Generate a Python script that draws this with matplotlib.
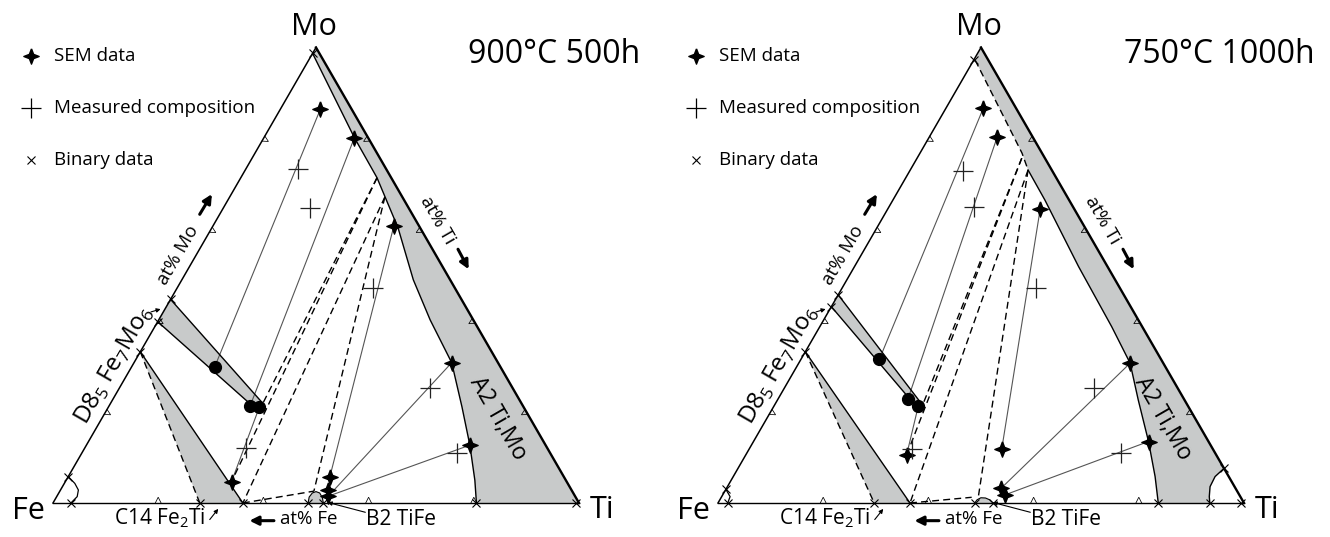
import numpy as np
import matplotlib
matplotlib.use('Agg')
import matplotlib.pyplot as plt
from matplotlib.path import Path

plt.rcParams['font.family'] = ['Open Sans', 'DejaVu Sans']
plt.rcParams['mathtext.fontset'] = 'custom'
plt.rcParams['mathtext.rm'] = 'Open Sans'

SQ = np.sqrt(3) / 2
GRAY = '#c8caca'
TIE = '#555555'

# ---- 900C 500h (left), compositions in at% (Ti, Mo) ----
L_A2_TI = [0, 17.2, 25.9, 35.4, 44.0, 51.6, 60.4, 67.2, 72.9, 77.7, 80.5]
L_A2_MO = [98.7, 80.2, 71.4, 60.4, 49.0, 40.2, 30.8, 21.1, 12.7, 5.0, 0]
L_D8_TI = [0, 28.8, 29.2, 28.9, 0]
L_D8_MO = [44.7, 22.0, 21.0, 20.2, 39.8]
L_C14_TI = [0, 27.9, 36.1]
L_C14_MO = [33.2, 0, 0]
L_FE_TI = [0, 2.0, 3.4, 3.9, 3.4]
L_FE_MO = [5.8, 4.3, 2.85, 1.4, 0]
L_B2_TI = [48.5, 48.05, 48.2, 48.75, 49.6, 50.6, 51.4]
L_B2_MO = [0, 1.3, 2.2, 2.5, 2.2, 1.2, 0]
L_SEM_TI = [7.6, 17.2, 34.4, 60.4, 72.9, 49.8, 50.9, 51.6, 31.6]
L_SEM_MO = [86.5, 80.2, 60.8, 30.8, 12.7, 5.6, 2.9, 1.5, 4.7]
L_DOT_TI = [15.8, 26.8, 28.7]
L_DOT_MO = [29.9, 21.4, 21.1]
L_MEAS_TI = [10.0, 16.5, 37.2, 59.1, 71.3, 30.6]
L_MEAS_MO = [73.3, 64.7, 47.1, 25.2, 10.9, 12.0]
L_BIN_TI = [3.4, 27.9, 36.1, 48.5, 51.4, 80.5, 99.5, 0, 0, 0, 0, 0]
L_BIN_MO = [0, 0, 0, 0, 0, 0, 0, 5.8, 33.2, 39.8, 44.7, 98.7]
L_TIE_A_TI = [7.6, 17.2, 34.4, 60.4, 72.9, 28.7]
L_TIE_A_MO = [86.5, 80.2, 60.8, 30.8, 12.7, 21.1]
L_TIE_B_TI = [15.8, 26.8, 49.8, 51.6, 51.6, 31.6]
L_TIE_B_MO = [29.9, 21.4, 5.6, 1.5, 1.5, 4.7]
L_DASH_A_TI = [25.9, 25.9, 29.5, 29.5, 36.1]
L_DASH_A_MO = [71.4, 71.4, 67.2, 67.2, 0]
L_DASH_B_TI = [29.0, 31.6, 36.1, 48.3, 48.3]
L_DASH_B_MO = [21.2, 4.7, 0, 2.6, 2.6]

# ---- 750C 1000h (right) ----
R_A2_TI = [0.3, 19.4, 22.4, 28.9, 42.6, 55.5, 63.0, 68.6, 75.1, 80.2, 83.7]
R_A2_MO = [97.2, 76.8, 73.1, 66.5, 51.9, 38.7, 30.7, 22.6, 13.5, 5.8, 0]
R_TIC_TI = [92.4, 91.6, 91.75, 92.7, 93.5]
R_TIC_MO = [7.6, 5.8, 3.6, 1.4, 0]
R_D8_TI = [0, 27.9, 28.5, 28.3, 0]
R_D8_MO = [45.7, 21.7, 20.8, 20.2, 43.1]
R_C14_TI = [0, 29.7, 36.5]
R_C14_MO = [33.2, 0, 0]
R_FE_TI = [0, 1.6, 1.85]
R_FE_MO = [3.0, 1.4, 0]
R_B2_TI = [48.8, 48.9, 49.4, 50.3, 51.3, 52.3]
R_B2_MO = [0, 0.7, 1.15, 1.1, 0.7, 0]
R_SEM_TI = [7.1, 12.9, 29.0, 63.0, 75.1, 48.0, 52.2, 53.7, 30.6]
R_SEM_MO = [86.7, 80.4, 64.5, 30.7, 13.5, 11.9, 3.2, 1.8, 10.5]
R_DOT_TI = [14.9, 24.7, 27.4]
R_DOT_MO = [31.6, 22.8, 21.4]
R_MEAS_TI = [10.2, 16.3, 37.0, 58.8, 71.2, 30.9]
R_MEAS_MO = [72.8, 64.9, 47.1, 25.2, 10.9, 11.8]
R_BIN_TI = [1.85, 29.7, 36.5, 48.8, 52.3, 83.7, 93.5, 99.5, 0, 0, 0, 0, 0, 92.4]
R_BIN_MO = [0, 0, 0, 0, 0, 0, 0, 0, 3.0, 33.2, 43.1, 45.7, 97.2, 7.6]
R_TIE_A_TI = [7.1, 12.9, 29.0, 63.0, 75.1, 27.4]
R_TIE_A_MO = [86.7, 80.4, 64.5, 30.7, 13.5, 21.4]
R_TIE_B_TI = [14.9, 24.7, 48.0, 52.2, 53.7, 30.6]
R_TIE_B_MO = [31.6, 22.8, 11.9, 3.2, 1.8, 10.5]
R_DASH_A_TI = [19.9, 19.9, 22.4, 22.4, 36.5]
R_DASH_A_MO = [75.7, 75.7, 73.1, 73.1, 0]
R_DASH_B_TI = [28.3, 30.6, 36.5, 48.8, 47.6]
R_DASH_B_MO = [20.5, 10.5, 0, 1.4, 1.25]

TICKS = [20, 40, 60, 80]


def tern(ti, mo):
    ti = np.asarray(ti, float) / 100
    mo = np.asarray(mo, float) / 100
    return ti + mo / 2, mo * SQ


star = Path([(0, 1), (0.28, 0.28), (1, 0), (0.28, -0.28), (0, -1),
             (-0.28, -0.28), (-1, 0), (-0.28, 0.28), (0, 1)])


def caret(ax, ti, mo, d, n):
    x, y = tern([ti], [mo])
    w, h = 0.0055, 0.011
    ax.plot([x[0] - w * d[0], x[0] + h * n[0], x[0] + w * d[0]],
            [y[0] - w * d[1], y[0] + h * n[1], y[0] + w * d[1]],
            color='k', lw=0.55, zorder=4, solid_joinstyle='miter')


def panel(ax, p, title):
    ax.set_xlim(-53 / 526, 612 / 526)
    ax.set_ylim(-34 / 526, 503 / 526)
    ax.axis('off')

    # A2 region
    ax_, ay_ = tern(p['a2_ti'], p['a2_mo'])
    ex, ey = tern([100, 0], [0, 100])
    if p['tic_ti'] is not None:
        tx, ty = tern(p['tic_ti'], p['tic_mo'])
        px = np.r_[ax_, tx[::-1], ex[1]]
        py = np.r_[ay_, ty[::-1], ey[1]]
    else:
        px = np.r_[ax_, ex]
        py = np.r_[ay_, ey]
    ax.fill(px, py, color=GRAY, lw=0, zorder=1)
    k = p['a2_dash']
    if k:
        ax.plot(ax_[:k + 1], ay_[:k + 1], color='k', lw=1.0, ls=(0, (5, 3)), zorder=3)
        ax.plot(ax_[k:], ay_[k:], color='k', lw=1.0, zorder=3)
    else:
        ax.plot(ax_, ay_, color='k', lw=1.0, zorder=3)
    if p['tic_ti'] is not None:
        ax.plot(tx, ty, color='k', lw=1.0, zorder=3)

    # D8_5 band
    dx, dy = tern(p['d8_ti'], p['d8_mo'])
    ax.fill(dx, dy, color=GRAY, lw=0, zorder=1)
    ax.plot(dx[1:], dy[1:], color='k', lw=1.0, zorder=3)
    ax.plot(dx[:2], dy[:2], color='k', lw=1.0, zorder=3)

    # C14
    cx, cy = tern(p['c14_ti'], p['c14_mo'])
    ax.fill(cx, cy, color=GRAY, lw=0, zorder=1)
    ax.plot(cx[:2], cy[:2], color='k', lw=1.0, ls=(0, (5, 3)), zorder=3)
    ax.plot(cx[::2], cy[::2], color='k', lw=1.0, zorder=3)

    # B2 and Fe corner
    bx, by = tern(p['b2_ti'], p['b2_mo'])
    ax.fill(bx, by, color=GRAY, lw=0, zorder=1)
    ax.plot(bx, by, color='k', lw=0.8, zorder=3)
    fx, fy = tern(p['fe_ti'], p['fe_mo'])
    ax.plot(fx, fy, color='k', lw=0.9, zorder=3)

    # triangle
    vx, vy = tern([0, 100, 0, 0], [0, 0, 100, 0])
    ax.plot(vx[:2], vy[:2], color='k', lw=1.0, zorder=4)
    ax.plot(vx[2:], vy[2:], color='k', lw=1.1, zorder=4)
    ax.plot(vx[1:3], vy[1:3], color='k', lw=1.7, zorder=4)

    for v in TICKS:
        caret(ax, v, 0, (1, 0), (0, 1))
        caret(ax, 0, v, (0.5, SQ), (SQ, -0.5))
        caret(ax, 100 - v, v, (0.5, -SQ), (-SQ, -0.5))

    # tie lines
    ax_t, ay_t = tern(p['tie_a_ti'], p['tie_a_mo'])
    bx_t, by_t = tern(p['tie_b_ti'], p['tie_b_mo'])
    for i in range(len(ax_t)):
        ax.plot([ax_t[i], bx_t[i]], [ay_t[i], by_t[i]], color=TIE, lw=0.8, zorder=2)
    ax_d, ay_d = tern(p['dash_a_ti'], p['dash_a_mo'])
    bx_d, by_d = tern(p['dash_b_ti'], p['dash_b_mo'])
    for i in range(len(ax_d)):
        ax.plot([ax_d[i], bx_d[i]], [ay_d[i], by_d[i]], color='k', lw=1.0,
                ls=(0, (5, 3)), zorder=2)

    # markers
    sx, sy = tern(p['sem_ti'], p['sem_mo'])
    ax.plot(sx, sy, ls='none', marker=star, ms=11, color='k', zorder=6)
    ox, oy = tern(p['dot_ti'], p['dot_mo'])
    ax.plot(ox, oy, ls='none', marker='o', ms=8.5, color='k', zorder=6)
    mx, my = tern(p['meas_ti'], p['meas_mo'])
    ax.plot(mx, my, ls='none', marker='+', ms=14, mew=0.9, color='#222222', zorder=6)
    nx, ny = tern(p['bin_ti'], p['bin_mo'])
    ax.plot(nx, ny, ls='none', marker='x', ms=6, mew=0.8, color='k', zorder=6)

    # legend
    ax.plot([-0.0426], [0.850], ls='none', marker=star, ms=11, color='k')
    ax.plot([-0.0426], [0.751], ls='none', marker='+', ms=14, mew=0.9, color='k')
    ax.plot([-0.0426], [0.652], ls='none', marker='x', ms=6, mew=0.8, color='k')
    for y, s in zip([0.850, 0.751, 0.652], ['SEM data', 'Measured composition', 'Binary data']):
        ax.text(0.0015, y, s, fontsize=13.5, va='center', ha='left')

    # labels
    ax.text(0.9525, 0.852, title, fontsize=23, ha='center', va='center')
    ax.text(0.496, 0.905, 'Mo', fontsize=22, ha='center', va='center')
    ax.text(-0.0475, -0.0152, 'Fe', fontsize=22, ha='center', va='center')
    ax.text(1.0437, -0.0133, 'Ti', fontsize=22, ha='center', va='center')
    ax.text(0.117, 0.262, r'D8$_5$ Fe$_7$Mo$_6$', fontsize=17.5, rotation=60,
            ha='center', va='center', rotation_mode='anchor')
    ax.text(0.8466, 0.161, 'A2 Ti,Mo', fontsize=16.5, rotation=-60,
            ha='center', va='center', rotation_mode='anchor')
    ax.text(0.2376, 0.4715, 'at% Mo', fontsize=13.5, rotation=60,
            ha='center', va='center', rotation_mode='anchor')
    ax.text(0.731, 0.538, 'at% Ti', fontsize=13.5, rotation=-60,
            ha='center', va='center', rotation_mode='anchor')
    ax.text(0.4867, -0.0304, 'at% Fe', fontsize=13.5, ha='center', va='center')
    ax.text(0.2034, -0.0285, r'C14 Fe$_2$Ti', fontsize=15, ha='center', va='center')
    ax.text(0.6616, -0.0323, 'B2 TiFe', fontsize=15, ha='center', va='center')

    big = dict(arrowstyle='-|>', lw=2.2, color='k', mutation_scale=13)
    small = dict(arrowstyle='-|>', lw=0.8, color='k', mutation_scale=6)
    ax.annotate('', xy=(0.3048, 0.5918), xytext=(0.2762, 0.5443), arrowprops=big)
    ax.annotate('', xy=(0.7928, 0.4397), xytext=(0.7675, 0.4871), arrowprops=big)
    ax.annotate('', xy=(0.3682, -0.0336), xytext=(0.4253, -0.0336), arrowprops=big)
    ax.annotate('', xy=(0.2097, 0.3701), xytext=(0.1812, 0.3618), arrowprops=small)
    ax.annotate('', xy=(0.3175, -0.007), xytext=(0.2947, -0.0356), arrowprops=small)
    ax.annotate('', xy=(0.5171, 0.0025), xytext=(0.5989, -0.019), arrowprops=small)


def pack(pre):
    g = globals()
    keys = ['A2_TI', 'A2_MO', 'D8_TI', 'D8_MO', 'C14_TI', 'C14_MO', 'FE_TI', 'FE_MO',
            'B2_TI', 'B2_MO', 'SEM_TI', 'SEM_MO', 'DOT_TI', 'DOT_MO', 'MEAS_TI', 'MEAS_MO',
            'BIN_TI', 'BIN_MO', 'TIE_A_TI', 'TIE_A_MO', 'TIE_B_TI', 'TIE_B_MO',
            'DASH_A_TI', 'DASH_A_MO', 'DASH_B_TI', 'DASH_B_MO']
    p = {k.lower(): g[pre + k] for k in keys}
    p['tic_ti'] = g.get(pre + 'TIC_TI')
    p['tic_mo'] = g.get(pre + 'TIC_MO')
    return p


fig = plt.figure(figsize=(13.3, 5.37), dpi=100)
ax1 = fig.add_axes([0, 0, 0.5, 1])
ax2 = fig.add_axes([0.5, 0, 0.5, 1])

pl = pack('L_')
pl['a2_dash'] = 0
pr = pack('R_')
pr['a2_dash'] = 2
panel(ax1, pl, '900°C 500h')
panel(ax2, pr, '750°C 1000h')

fig.savefig('out.png', dpi=100)
